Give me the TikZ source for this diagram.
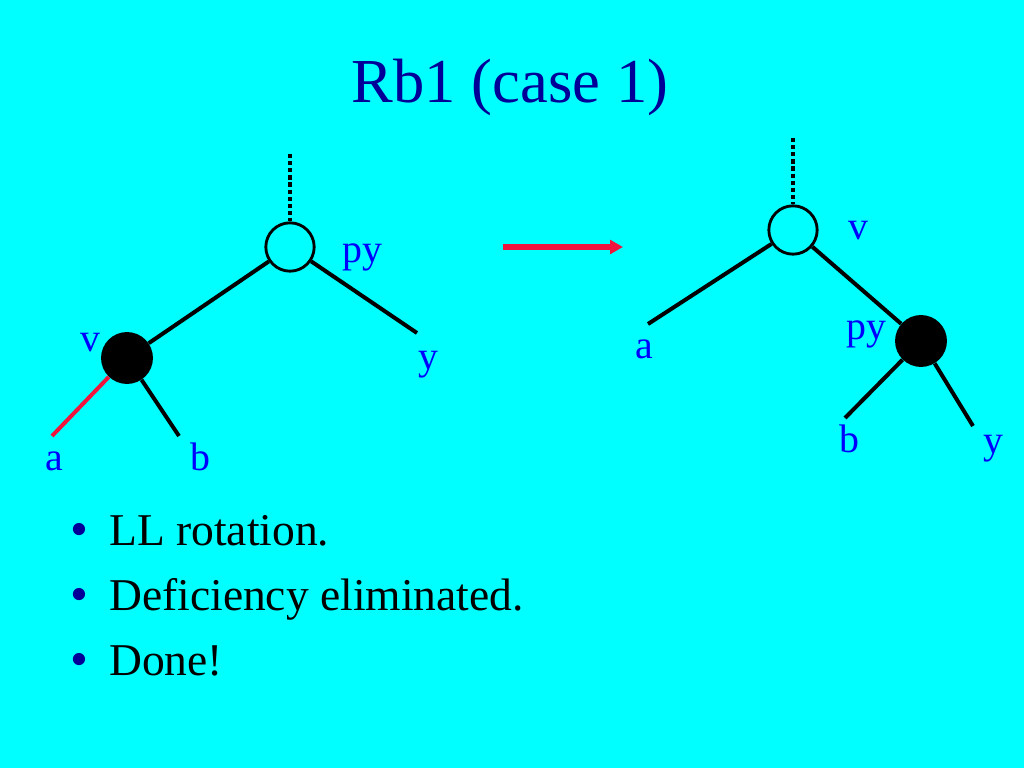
\documentclass[tikz,border=0pt]{standalone}
\usepackage{fontspec}
\setmainfont{Liberation Serif}
\usetikzlibrary{arrows.meta}

\definecolor{slidebg}{RGB}{0,255,255}
\definecolor{titleblue}{RGB}{0,0,153}
\definecolor{lblblue}{RGB}{0,0,255}
\definecolor{rotred}{RGB}{240,20,60}

\begin{document}
\begin{tikzpicture}[
    x=0.703125pt, y=-0.703125pt,
    whitenode/.style={circle, draw, line width=2pt, fill=slidebg, minimum size=34pt, inner sep=0pt},
    blacknode/.style={circle, fill=black, minimum size=36.5pt, inner sep=0pt},
    branch/.style={line width=2.8pt},
    uplink/.style={line width=3pt, dash pattern=on 3pt off 2pt},
    lbl/.style={anchor=base west, inner sep=0pt, text=lblblue, font=\fontsize{28}{32}\selectfont},
    itemtxt/.style={anchor=base west, inner sep=0pt, font=\fontsize{32}{38}\selectfont},
    itemdot/.style={anchor=base, inner sep=0pt, text=titleblue, font=\fontsize{36}{40}\selectfont},
    arr/.style={-{Triangle[length=9pt, width=9.5pt]}, line width=4.5pt, rotred}
]
% Slide background
\fill[slidebg] (0,0) rectangle (1024,768);

% Title
\node[anchor=base, inner sep=0pt, text=titleblue, font=\fontsize{44}{50}\selectfont] (title) at (510,103) {Rb1 (case 1)};

% Left tree (before)
\coordinate (top1) at (290,154);
\node[whitenode] (py1) at (290,247) {};
\node[blacknode] (v1)  at (127,358) {};
\coordinate (y1) at (417,333);
\coordinate (a1) at (52,436);
\coordinate (b1) at (179,436);

\draw[uplink] (top1) -- (py1);
\draw[branch] (py1) -- (v1);
\draw[branch] (py1) -- (y1);
\draw[branch] (v1)  -- (b1);
\draw[branch, rotred] (v1) -- (a1);

\node[lbl] (py1lbl) at (342,263) {py};
\node[lbl] (v1lbl)  at (80,351)  {v};
\node[lbl] (y1lbl)  at (418,369) {y};
\node[lbl] (a1lbl)  at (45,470)  {a};
\node[lbl] (b1lbl)  at (190,470) {b};

% Rotation arrow
\coordinate (arrL) at (503,247);
\coordinate (arrR) at (623,247);
\draw[arr] (arrL) -- (arrR);

% Right tree (after)
\coordinate (top2) at (793,138);
\node[whitenode] (v2)  at (793,230) {};
\node[blacknode] (py2) at (921,341) {};
\coordinate (a2) at (648,324);
\coordinate (b2) at (845,418);
\coordinate (y2) at (973,426);

\draw[uplink] (top2) -- (v2);
\draw[branch] (v2)  -- (a2);
\draw[branch] (v2)  -- (py2);
\draw[branch] (py2) -- (b2);
\draw[branch] (py2) -- (y2);

\node[lbl] (v2lbl)  at (848,240) {v};
\node[lbl] (py2lbl) at (846,340) {py};
\node[lbl] (a2lbl)  at (635,358) {a};
\node[lbl] (b2lbl)  at (839,452) {b};
\node[lbl] (y2lbl)  at (983,453) {y};

% Bullets
\node[itemdot] (d1) at (79,546) {•};
\node[itemdot] (d2) at (79,611) {•};
\node[itemdot] (d3) at (79,676) {•};
\node[itemtxt] (t1) at (109,545) {LL rotation.};
\node[itemtxt] (t2) at (109,610) {Deficiency eliminated.};
\node[itemtxt] (t3) at (109,675) {Done!};
\end{tikzpicture}
\end{document}
